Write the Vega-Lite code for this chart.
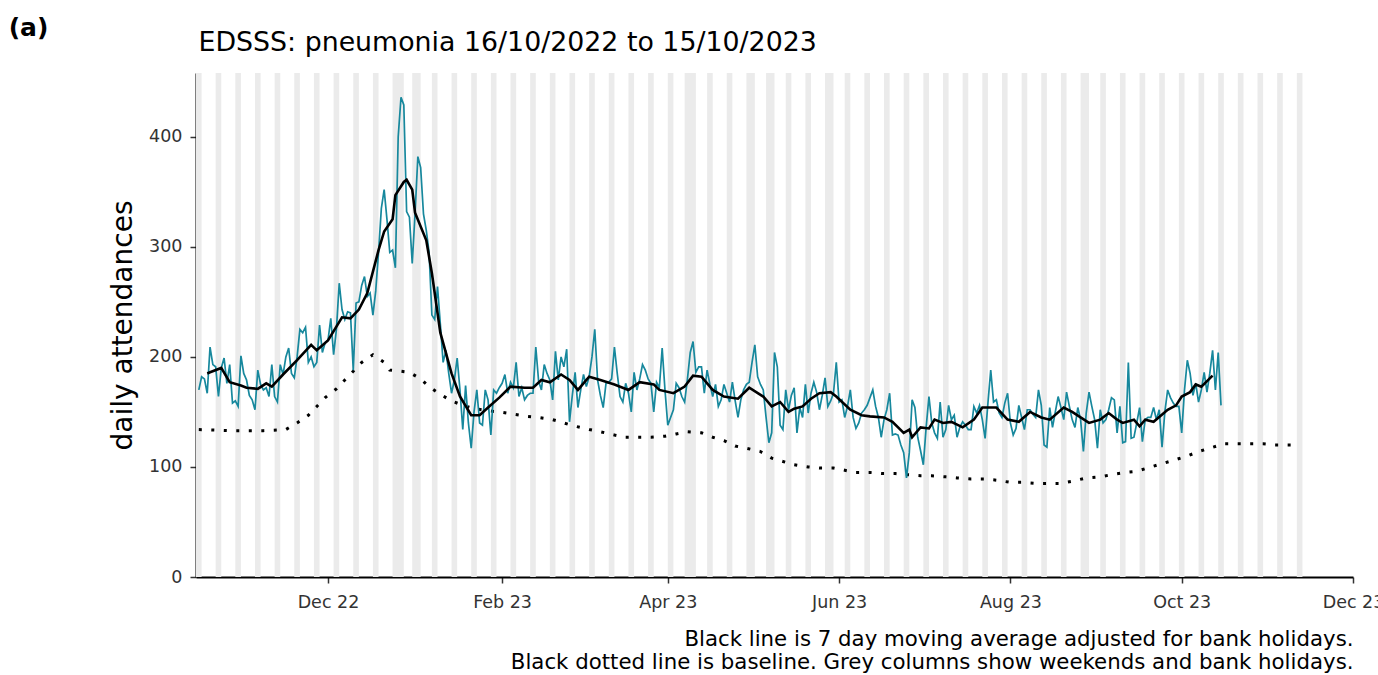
{
"$schema": "https://vega.github.io/schema/vega-lite/v6.json",
"width": 1157,
"height": 504,
"autosize": {"type": "none"},
"padding": {"left": 196, "top": 73, "right": 25, "bottom": 98},
"background": "white",
"config": {"view": {"stroke": null}, "font": "DejaVu Sans"},
"datasets": {
"grey": [
{"s":"2022-10-15","e":"2022-10-17"},{"s":"2022-10-22","e":"2022-10-24"},{"s":"2022-10-29","e":"2022-10-31"},{"s":"2022-11-05","e":"2022-11-07"},{"s":"2022-11-12","e":"2022-11-14"},{"s":"2022-11-19","e":"2022-11-21"},{"s":"2022-11-26","e":"2022-11-28"},{"s":"2022-12-03","e":"2022-12-05"},{"s":"2022-12-10","e":"2022-12-12"},{"s":"2022-12-17","e":"2022-12-19"},{"s":"2022-12-24","e":"2022-12-28"},{"s":"2022-12-31","e":"2023-01-03"},{"s":"2023-01-07","e":"2023-01-09"},{"s":"2023-01-14","e":"2023-01-16"},{"s":"2023-01-21","e":"2023-01-23"},{"s":"2023-01-28","e":"2023-01-30"},{"s":"2023-02-04","e":"2023-02-06"},{"s":"2023-02-11","e":"2023-02-13"},{"s":"2023-02-18","e":"2023-02-20"},{"s":"2023-02-25","e":"2023-02-27"},{"s":"2023-03-04","e":"2023-03-06"},{"s":"2023-03-11","e":"2023-03-13"},{"s":"2023-03-18","e":"2023-03-20"},{"s":"2023-03-25","e":"2023-03-27"},{"s":"2023-04-01","e":"2023-04-03"},{"s":"2023-04-07","e":"2023-04-11"},{"s":"2023-04-15","e":"2023-04-17"},{"s":"2023-04-22","e":"2023-04-24"},{"s":"2023-04-29","e":"2023-05-02"},{"s":"2023-05-06","e":"2023-05-09"},{"s":"2023-05-13","e":"2023-05-15"},{"s":"2023-05-20","e":"2023-05-22"},{"s":"2023-05-27","e":"2023-05-30"},{"s":"2023-06-03","e":"2023-06-05"},{"s":"2023-06-10","e":"2023-06-12"},{"s":"2023-06-17","e":"2023-06-19"},{"s":"2023-06-24","e":"2023-06-26"},{"s":"2023-07-01","e":"2023-07-03"},{"s":"2023-07-08","e":"2023-07-10"},{"s":"2023-07-15","e":"2023-07-17"},{"s":"2023-07-22","e":"2023-07-24"},{"s":"2023-07-29","e":"2023-07-31"},{"s":"2023-08-05","e":"2023-08-07"},{"s":"2023-08-12","e":"2023-08-14"},{"s":"2023-08-19","e":"2023-08-21"},{"s":"2023-08-26","e":"2023-08-29"},{"s":"2023-09-02","e":"2023-09-04"},{"s":"2023-09-09","e":"2023-09-11"},{"s":"2023-09-16","e":"2023-09-18"},{"s":"2023-09-23","e":"2023-09-25"},{"s":"2023-09-30","e":"2023-10-02"},{"s":"2023-10-07","e":"2023-10-09"},{"s":"2023-10-14","e":"2023-10-16"},{"s":"2023-10-21","e":"2023-10-23"},{"s":"2023-10-28","e":"2023-10-30"},{"s":"2023-11-04","e":"2023-11-06"},{"s":"2023-11-11","e":"2023-11-13"}
],
"daily": [
{"d":"2022-10-16","v":170},{"d":"2022-10-17","v":182},{"d":"2022-10-18","v":180},{"d":"2022-10-19","v":167},{"d":"2022-10-20","v":209},{"d":"2022-10-21","v":193},{"d":"2022-10-22","v":191},{"d":"2022-10-23","v":164},{"d":"2022-10-24","v":190},{"d":"2022-10-25","v":199},{"d":"2022-10-26","v":176},{"d":"2022-10-27","v":193},{"d":"2022-10-28","v":158},{"d":"2022-10-29","v":160},{"d":"2022-10-30","v":155},{"d":"2022-10-31","v":201},
{"d":"2022-11-01","v":185},{"d":"2022-11-02","v":179},{"d":"2022-11-03","v":165},{"d":"2022-11-04","v":161},{"d":"2022-11-05","v":152},{"d":"2022-11-06","v":188},{"d":"2022-11-07","v":175},{"d":"2022-11-08","v":170},{"d":"2022-11-09","v":172},{"d":"2022-11-10","v":164},{"d":"2022-11-11","v":193},{"d":"2022-11-12","v":164},{"d":"2022-11-13","v":159},{"d":"2022-11-14","v":193},{"d":"2022-11-15","v":184},{"d":"2022-11-16","v":200},{"d":"2022-11-17","v":208},{"d":"2022-11-18","v":185},{"d":"2022-11-19","v":181},{"d":"2022-11-20","v":200},{"d":"2022-11-21","v":225},{"d":"2022-11-22","v":222},{"d":"2022-11-23","v":227},{"d":"2022-11-24","v":195},{"d":"2022-11-25","v":200},{"d":"2022-11-26","v":191},{"d":"2022-11-27","v":195},{"d":"2022-11-28","v":229},{"d":"2022-11-29","v":204},{"d":"2022-11-30","v":213},
{"d":"2022-12-01","v":215},{"d":"2022-12-02","v":235},{"d":"2022-12-03","v":202},{"d":"2022-12-04","v":225},{"d":"2022-12-05","v":267},{"d":"2022-12-06","v":243},{"d":"2022-12-07","v":234},{"d":"2022-12-08","v":241},{"d":"2022-12-09","v":240},{"d":"2022-12-10","v":188},{"d":"2022-12-11","v":249},{"d":"2022-12-12","v":250},{"d":"2022-12-13","v":265},{"d":"2022-12-14","v":273},{"d":"2022-12-15","v":255},{"d":"2022-12-16","v":258},{"d":"2022-12-17","v":238},{"d":"2022-12-18","v":260},{"d":"2022-12-19","v":295},{"d":"2022-12-20","v":335},{"d":"2022-12-21","v":352},{"d":"2022-12-22","v":325},{"d":"2022-12-23","v":295},{"d":"2022-12-24","v":297},{"d":"2022-12-25","v":281},{"d":"2022-12-26","v":400},{"d":"2022-12-27","v":436},{"d":"2022-12-28","v":429},{"d":"2022-12-29","v":332},{"d":"2022-12-30","v":327},{"d":"2022-12-31","v":285},
{"d":"2023-01-01","v":330},{"d":"2023-01-02","v":382},{"d":"2023-01-03","v":372},{"d":"2023-01-04","v":330},{"d":"2023-01-05","v":315},{"d":"2023-01-06","v":295},{"d":"2023-01-07","v":238},{"d":"2023-01-08","v":234},{"d":"2023-01-09","v":264},{"d":"2023-01-10","v":230},{"d":"2023-01-11","v":195},{"d":"2023-01-12","v":206},{"d":"2023-01-13","v":185},{"d":"2023-01-14","v":167},{"d":"2023-01-15","v":179},{"d":"2023-01-16","v":199},{"d":"2023-01-17","v":170},{"d":"2023-01-18","v":134},{"d":"2023-01-19","v":174},{"d":"2023-01-20","v":140},{"d":"2023-01-21","v":117},{"d":"2023-01-22","v":150},{"d":"2023-01-23","v":170},{"d":"2023-01-24","v":140},{"d":"2023-01-25","v":138},{"d":"2023-01-26","v":170},{"d":"2023-01-27","v":161},{"d":"2023-01-28","v":129},{"d":"2023-01-29","v":170},{"d":"2023-01-30","v":167},{"d":"2023-01-31","v":172},
{"d":"2023-02-01","v":176},{"d":"2023-02-02","v":184},{"d":"2023-02-03","v":167},{"d":"2023-02-04","v":177},{"d":"2023-02-05","v":172},{"d":"2023-02-06","v":195},{"d":"2023-02-07","v":164},{"d":"2023-02-08","v":172},{"d":"2023-02-09","v":161},{"d":"2023-02-10","v":165},{"d":"2023-02-11","v":167},{"d":"2023-02-12","v":167},{"d":"2023-02-13","v":209},{"d":"2023-02-14","v":178},{"d":"2023-02-15","v":170},{"d":"2023-02-16","v":193},{"d":"2023-02-17","v":185},{"d":"2023-02-18","v":179},{"d":"2023-02-19","v":161},{"d":"2023-02-20","v":205},{"d":"2023-02-21","v":179},{"d":"2023-02-22","v":200},{"d":"2023-02-23","v":191},{"d":"2023-02-24","v":207},{"d":"2023-02-25","v":141},{"d":"2023-02-26","v":165},{"d":"2023-02-27","v":186},{"d":"2023-02-28","v":154},
{"d":"2023-03-01","v":170},{"d":"2023-03-02","v":184},{"d":"2023-03-03","v":173},{"d":"2023-03-04","v":182},{"d":"2023-03-05","v":200},{"d":"2023-03-06","v":225},{"d":"2023-03-07","v":179},{"d":"2023-03-08","v":165},{"d":"2023-03-09","v":154},{"d":"2023-03-10","v":176},{"d":"2023-03-11","v":177},{"d":"2023-03-12","v":180},{"d":"2023-03-13","v":209},{"d":"2023-03-14","v":185},{"d":"2023-03-15","v":164},{"d":"2023-03-16","v":159},{"d":"2023-03-17","v":176},{"d":"2023-03-18","v":167},{"d":"2023-03-19","v":150},{"d":"2023-03-20","v":186},{"d":"2023-03-21","v":170},{"d":"2023-03-22","v":180},{"d":"2023-03-23","v":193},{"d":"2023-03-24","v":188},{"d":"2023-03-25","v":180},{"d":"2023-03-26","v":176},{"d":"2023-03-27","v":150},{"d":"2023-03-28","v":177},{"d":"2023-03-29","v":172},{"d":"2023-03-30","v":208},{"d":"2023-03-31","v":170},
{"d":"2023-04-01","v":138},{"d":"2023-04-02","v":145},{"d":"2023-04-03","v":152},{"d":"2023-04-04","v":176},{"d":"2023-04-05","v":172},{"d":"2023-04-06","v":164},{"d":"2023-04-07","v":159},{"d":"2023-04-08","v":180},{"d":"2023-04-09","v":204},{"d":"2023-04-10","v":214},{"d":"2023-04-11","v":186},{"d":"2023-04-12","v":191},{"d":"2023-04-13","v":191},{"d":"2023-04-14","v":167},{"d":"2023-04-15","v":188},{"d":"2023-04-16","v":175},{"d":"2023-04-17","v":164},{"d":"2023-04-18","v":175},{"d":"2023-04-19","v":155},{"d":"2023-04-20","v":161},{"d":"2023-04-21","v":175},{"d":"2023-04-22","v":167},{"d":"2023-04-23","v":159},{"d":"2023-04-24","v":177},{"d":"2023-04-25","v":160},{"d":"2023-04-26","v":145},{"d":"2023-04-27","v":161},{"d":"2023-04-28","v":170},{"d":"2023-04-29","v":175},{"d":"2023-04-30","v":177},
{"d":"2023-05-01","v":195},{"d":"2023-05-02","v":211},{"d":"2023-05-03","v":182},{"d":"2023-05-04","v":175},{"d":"2023-05-05","v":170},{"d":"2023-05-06","v":145},{"d":"2023-05-07","v":122},{"d":"2023-05-08","v":131},{"d":"2023-05-09","v":204},{"d":"2023-05-10","v":191},{"d":"2023-05-11","v":138},{"d":"2023-05-12","v":134},{"d":"2023-05-13","v":170},{"d":"2023-05-14","v":152},{"d":"2023-05-15","v":165},{"d":"2023-05-16","v":172},{"d":"2023-05-17","v":131},{"d":"2023-05-18","v":154},{"d":"2023-05-19","v":145},{"d":"2023-05-20","v":175},{"d":"2023-05-21","v":149},{"d":"2023-05-22","v":167},{"d":"2023-05-23","v":177},{"d":"2023-05-24","v":168},{"d":"2023-05-25","v":152},{"d":"2023-05-26","v":165},{"d":"2023-05-27","v":181},{"d":"2023-05-28","v":155},{"d":"2023-05-29","v":160},{"d":"2023-05-30","v":167},{"d":"2023-05-31","v":195},
{"d":"2023-06-01","v":159},{"d":"2023-06-02","v":161},{"d":"2023-06-03","v":145},{"d":"2023-06-04","v":155},{"d":"2023-06-05","v":170},{"d":"2023-06-06","v":145},{"d":"2023-06-07","v":135},{"d":"2023-06-08","v":140},{"d":"2023-06-09","v":149},{"d":"2023-06-10","v":152},{"d":"2023-06-11","v":156},{"d":"2023-06-12","v":163},{"d":"2023-06-13","v":170},{"d":"2023-06-14","v":155},{"d":"2023-06-15","v":145},{"d":"2023-06-16","v":127},{"d":"2023-06-17","v":143},{"d":"2023-06-18","v":152},{"d":"2023-06-19","v":167},{"d":"2023-06-20","v":129},{"d":"2023-06-21","v":130},{"d":"2023-06-22","v":129},{"d":"2023-06-23","v":120},{"d":"2023-06-24","v":113},{"d":"2023-06-25","v":90},{"d":"2023-06-26","v":113},{"d":"2023-06-27","v":161},{"d":"2023-06-28","v":154},{"d":"2023-06-29","v":127},{"d":"2023-06-30","v":115},
{"d":"2023-07-01","v":102},{"d":"2023-07-02","v":136},{"d":"2023-07-03","v":164},{"d":"2023-07-04","v":140},{"d":"2023-07-05","v":131},{"d":"2023-07-06","v":126},{"d":"2023-07-07","v":159},{"d":"2023-07-08","v":127},{"d":"2023-07-09","v":134},{"d":"2023-07-10","v":156},{"d":"2023-07-11","v":143},{"d":"2023-07-12","v":147},{"d":"2023-07-13","v":127},{"d":"2023-07-14","v":136},{"d":"2023-07-15","v":141},{"d":"2023-07-16","v":138},{"d":"2023-07-17","v":134},{"d":"2023-07-18","v":134},{"d":"2023-07-19","v":155},{"d":"2023-07-20","v":149},{"d":"2023-07-21","v":156},{"d":"2023-07-22","v":143},{"d":"2023-07-23","v":126},{"d":"2023-07-24","v":158},{"d":"2023-07-25","v":188},{"d":"2023-07-26","v":159},{"d":"2023-07-27","v":161},{"d":"2023-07-28","v":149},{"d":"2023-07-29","v":145},{"d":"2023-07-30","v":158},{"d":"2023-07-31","v":167},
{"d":"2023-08-01","v":140},{"d":"2023-08-02","v":129},{"d":"2023-08-03","v":135},{"d":"2023-08-04","v":156},{"d":"2023-08-05","v":145},{"d":"2023-08-06","v":134},{"d":"2023-08-07","v":152},{"d":"2023-08-08","v":152},{"d":"2023-08-09","v":148},{"d":"2023-08-10","v":145},{"d":"2023-08-11","v":170},{"d":"2023-08-12","v":156},{"d":"2023-08-13","v":120},{"d":"2023-08-14","v":118},{"d":"2023-08-15","v":154},{"d":"2023-08-16","v":136},{"d":"2023-08-17","v":150},{"d":"2023-08-18","v":164},{"d":"2023-08-19","v":154},{"d":"2023-08-20","v":143},{"d":"2023-08-21","v":168},{"d":"2023-08-22","v":155},{"d":"2023-08-23","v":143},{"d":"2023-08-24","v":136},{"d":"2023-08-25","v":154},{"d":"2023-08-26","v":143},{"d":"2023-08-27","v":114},{"d":"2023-08-28","v":149},{"d":"2023-08-29","v":168},{"d":"2023-08-30","v":155},{"d":"2023-08-31","v":143},
{"d":"2023-09-01","v":117},{"d":"2023-09-02","v":152},{"d":"2023-09-03","v":140},{"d":"2023-09-04","v":143},{"d":"2023-09-05","v":152},{"d":"2023-09-06","v":163},{"d":"2023-09-07","v":161},{"d":"2023-09-08","v":131},{"d":"2023-09-09","v":155},{"d":"2023-09-10","v":122},{"d":"2023-09-11","v":123},{"d":"2023-09-12","v":195},{"d":"2023-09-13","v":126},{"d":"2023-09-14","v":127},{"d":"2023-09-15","v":140},{"d":"2023-09-16","v":154},{"d":"2023-09-17","v":123},{"d":"2023-09-18","v":143},{"d":"2023-09-19","v":145},{"d":"2023-09-20","v":145},{"d":"2023-09-21","v":154},{"d":"2023-09-22","v":143},{"d":"2023-09-23","v":152},{"d":"2023-09-24","v":118},{"d":"2023-09-25","v":150},{"d":"2023-09-26","v":170},{"d":"2023-09-27","v":163},{"d":"2023-09-28","v":158},{"d":"2023-09-29","v":155},{"d":"2023-09-30","v":155},
{"d":"2023-10-01","v":131},{"d":"2023-10-02","v":170},{"d":"2023-10-03","v":197},{"d":"2023-10-04","v":185},{"d":"2023-10-05","v":165},{"d":"2023-10-06","v":176},{"d":"2023-10-07","v":159},{"d":"2023-10-08","v":170},{"d":"2023-10-09","v":186},{"d":"2023-10-10","v":168},{"d":"2023-10-11","v":185},{"d":"2023-10-12","v":206},{"d":"2023-10-13","v":170},{"d":"2023-10-14","v":204},{"d":"2023-10-15","v":156}
],
"ma": [
{"d":"2022-10-19","v":185},{"d":"2022-10-20","v":186},{"d":"2022-10-24","v":190},{"d":"2022-10-27","v":177},{"d":"2022-10-31","v":174},{"d":"2022-11-02","v":172},{"d":"2022-11-06","v":171},{"d":"2022-11-09","v":176},{"d":"2022-11-11","v":173},{"d":"2022-11-15","v":184},{"d":"2022-11-20","v":197},{"d":"2022-11-25","v":211},{"d":"2022-11-27","v":206},{"d":"2022-12-01","v":215},{"d":"2022-12-06","v":236},{"d":"2022-12-09","v":235},{"d":"2022-12-12","v":243},{"d":"2022-12-15","v":258},{"d":"2022-12-19","v":297},{"d":"2022-12-21","v":314},{"d":"2022-12-24","v":325},{"d":"2022-12-25","v":347},{"d":"2022-12-28","v":359},{"d":"2022-12-29","v":361},{"d":"2022-12-31","v":352},{"d":"2023-01-01","v":331},{"d":"2023-01-05","v":306},{"d":"2023-01-07","v":276},{"d":"2023-01-10","v":222},{"d":"2023-01-14","v":185},{"d":"2023-01-17","v":164},{"d":"2023-01-21","v":147},{"d":"2023-01-24","v":147},{"d":"2023-01-27","v":154},{"d":"2023-01-31","v":163},{"d":"2023-02-04","v":173},{"d":"2023-02-09","v":172},{"d":"2023-02-12","v":172},{"d":"2023-02-15","v":179},{"d":"2023-02-18","v":177},{"d":"2023-02-22","v":184},{"d":"2023-02-25","v":179},{"d":"2023-02-28","v":170},{"d":"2023-03-04","v":182},{"d":"2023-03-08","v":179},{"d":"2023-03-13","v":175},{"d":"2023-03-18","v":170},{"d":"2023-03-22","v":177},{"d":"2023-03-27","v":175},{"d":"2023-03-29","v":170},{"d":"2023-04-03","v":167},{"d":"2023-04-07","v":173},{"d":"2023-04-10","v":183},{"d":"2023-04-13","v":182},{"d":"2023-04-17","v":170},{"d":"2023-04-21","v":164},{"d":"2023-04-26","v":162},{"d":"2023-04-30","v":172},{"d":"2023-05-05","v":164},{"d":"2023-05-08","v":155},{"d":"2023-05-11","v":159},{"d":"2023-05-14","v":150},{"d":"2023-05-16","v":153},{"d":"2023-05-19","v":155},{"d":"2023-05-22","v":162},{"d":"2023-05-25","v":167},{"d":"2023-05-29","v":168},{"d":"2023-05-31","v":164},{"d":"2023-06-05","v":152},{"d":"2023-06-09","v":147},{"d":"2023-06-12","v":146},{"d":"2023-06-17","v":145},{"d":"2023-06-20","v":141},{"d":"2023-06-24","v":131},{"d":"2023-06-26","v":134},{"d":"2023-06-27","v":127},{"d":"2023-06-30","v":136},{"d":"2023-07-03","v":135},{"d":"2023-07-05","v":143},{"d":"2023-07-08","v":140},{"d":"2023-07-11","v":141},{"d":"2023-07-15","v":136},{"d":"2023-07-19","v":143},{"d":"2023-07-22","v":154},{"d":"2023-07-27","v":154},{"d":"2023-07-31","v":143},{"d":"2023-08-04","v":141},{"d":"2023-08-08","v":150},{"d":"2023-08-12","v":145},{"d":"2023-08-15","v":143},{"d":"2023-08-20","v":154},{"d":"2023-08-23","v":150},{"d":"2023-08-26","v":145},{"d":"2023-08-29","v":140},{"d":"2023-09-02","v":143},{"d":"2023-09-05","v":149},{"d":"2023-09-08","v":143},{"d":"2023-09-10","v":140},{"d":"2023-09-14","v":143},{"d":"2023-09-16","v":137},{"d":"2023-09-18","v":143},{"d":"2023-09-21","v":141},{"d":"2023-09-26","v":152},{"d":"2023-09-29","v":156},{"d":"2023-10-01","v":164},{"d":"2023-10-04","v":168},{"d":"2023-10-06","v":175},{"d":"2023-10-08","v":173},{"d":"2023-10-12","v":183}
],
"base": [
{"d":"2022-10-16","v":134},{"d":"2022-10-27","v":133},{"d":"2022-11-08","v":133},{"d":"2022-11-16","v":134},{"d":"2022-11-20","v":140},{"d":"2022-11-24","v":147},{"d":"2022-11-27","v":155},{"d":"2022-11-30","v":163},{"d":"2022-12-04","v":171},{"d":"2022-12-07","v":179},{"d":"2022-12-10","v":187},{"d":"2022-12-13","v":195},{"d":"2022-12-17","v":202},{"d":"2022-12-21","v":195},{"d":"2022-12-23","v":188},{"d":"2022-12-27","v":187},{"d":"2022-12-30","v":186},{"d":"2023-01-03","v":180},{"d":"2023-01-06","v":173},{"d":"2023-01-10","v":166},{"d":"2023-01-14","v":160},{"d":"2023-01-18","v":156},{"d":"2023-01-22","v":153},{"d":"2023-01-27","v":151},{"d":"2023-01-31","v":150},{"d":"2023-02-05","v":148},{"d":"2023-02-10","v":146},{"d":"2023-02-14","v":145},{"d":"2023-02-19","v":143},{"d":"2023-02-23","v":140},{"d":"2023-02-27","v":137},{"d":"2023-03-04","v":134},{"d":"2023-03-08","v":132},{"d":"2023-03-13","v":129},{"d":"2023-03-17","v":127},{"d":"2023-03-22","v":127},{"d":"2023-03-26","v":127},{"d":"2023-03-31","v":128},{"d":"2023-04-04","v":130},{"d":"2023-04-08","v":132},{"d":"2023-04-13","v":131},{"d":"2023-04-17","v":127},{"d":"2023-04-21","v":124},{"d":"2023-04-25","v":119},{"d":"2023-04-29","v":117},{"d":"2023-05-04","v":114},{"d":"2023-05-08","v":108},{"d":"2023-05-12","v":105},{"d":"2023-05-16","v":102},{"d":"2023-05-21","v":100},{"d":"2023-05-25","v":99},{"d":"2023-05-30","v":99},{"d":"2023-06-03","v":97},{"d":"2023-06-07","v":95},{"d":"2023-06-12","v":95},{"d":"2023-06-16","v":94},{"d":"2023-06-21","v":94},{"d":"2023-06-25","v":93},{"d":"2023-06-30","v":92},{"d":"2023-07-04","v":92},{"d":"2023-07-09","v":91},{"d":"2023-07-13","v":90},{"d":"2023-07-18","v":89},{"d":"2023-07-23","v":89},{"d":"2023-07-27","v":88},{"d":"2023-08-01","v":86},{"d":"2023-08-05","v":86},{"d":"2023-08-10","v":85},{"d":"2023-08-15","v":85},{"d":"2023-08-19","v":85},{"d":"2023-08-23","v":87},{"d":"2023-08-28","v":90},{"d":"2023-09-02","v":91},{"d":"2023-09-06","v":93},{"d":"2023-09-11","v":95},{"d":"2023-09-15","v":96},{"d":"2023-09-20","v":100},{"d":"2023-09-24","v":103},{"d":"2023-09-28","v":106},{"d":"2023-10-03","v":110},{"d":"2023-10-07","v":114},{"d":"2023-10-11","v":117},{"d":"2023-10-16","v":121},{"d":"2023-10-21","v":121},{"d":"2023-10-25","v":121},{"d":"2023-10-30","v":121},{"d":"2023-11-03","v":120},{"d":"2023-11-09","v":120}
]
},
"layer": [
{
"data": {"name": "grey"},
"mark": {"type": "rect", "color": "#EBEBEB"},
"encoding": {
"x": {"field": "s", "type": "temporal",
"scale": {"type": "utc", "domain": [{"year": 2022, "month": 10, "date": 15, "utc": true}, {"year": 2023, "month": 12, "date": 1, "utc": true}]},
"axis": {"orient": "bottom", "values": [{"year": 2022, "month": 12, "date": 1, "utc": true}, {"year": 2023, "month": 2, "date": 1, "utc": true}, {"year": 2023, "month": 4, "date": 1, "utc": true}, {"year": 2023, "month": 6, "date": 1, "utc": true}, {"year": 2023, "month": 8, "date": 1, "utc": true}, {"year": 2023, "month": 10, "date": 1, "utc": true}, {"year": 2023, "month": 12, "date": 1, "utc": true}],
"labelExpr": "utcFormat(datum.value, '%b %y')", "labelFontSize": 17.5, "labelFont": "DejaVu Sans", "labelColor": "#333333", "labelPadding": 10, "labelFlush": false, "labelOverlap": false, "tickSize": 6, "tickColor": "#333333", "tickWidth": 1.5, "domainColor": "black", "domainWidth": 2, "grid": false,
"title": ["Black line is 7 day moving average adjusted for bank holidays.", "Black dotted line is baseline. Grey columns show weekends and bank holidays."],
"titleFont": "DejaVu Sans", "titleFontSize": 21.3, "titleFontWeight": "normal", "titleColor": "black", "titleAnchor": "end", "titleAlign": "right", "titleX": 1157, "titleY": 68, "titleBaseline": "alphabetic", "titleLineHeight": 23}},
"x2": {"field": "e"}
}
},
{
"data": {"name": "base"},
"mark": {"type": "line", "color": "black", "strokeWidth": 3, "strokeDash": [3, 9.5], "strokeCap": "butt"},
"encoding": {
"x": {"field": "d", "type": "temporal", "axis": null},
"y": {"field": "v", "type": "quantitative", "title": "daily attendances"}
}
},
{
"data": {"name": "daily"},
"mark": {"type": "line", "color": "#17889D", "strokeWidth": 1.7},
"encoding": {
"x": {"field": "d", "type": "temporal",
"axis": {"orient": "top", "title": "EDSSS: pneumonia 16/10/2022 to 15/10/2023", "labels": false, "ticks": false, "domain": false, "grid": false, "titleAnchor": "start", "titleAlign": "left", "titleX": 2, "titleY": -23, "titleBaseline": "alphabetic", "titleFont": "DejaVu Sans", "titleFontSize": 26.8, "titleFontWeight": "normal", "titleColor": "black", "titleAngle": 0}},
"y": {"field": "v", "type": "quantitative", "title": "daily attendances",
"scale": {"domain": [0, 458], "nice": false, "zero": true},
"axis": {"values": [0, 100, 200, 300, 400], "labelFont": "DejaVu Sans", "labelFontSize": 17.5, "labelColor": "#333333", "labelPadding": 8, "tickSize": 6, "tickColor": "#333333", "tickWidth": 1.5, "domainColor": "black", "domainWidth": 2, "grid": false, "titleFont": "DejaVu Sans", "titleFontSize": 28, "titleFontWeight": "normal", "titleColor": "black", "titlePadding": 11}}
}
},
{
"data": {"name": "ma"},
"mark": {"type": "line", "color": "black", "strokeWidth": 2.6},
"encoding": {
"x": {"field": "d", "type": "temporal",
"axis": {"orient": "top", "title": "(a)", "labels": false, "ticks": false, "domain": false, "grid": false, "titleX": -168, "titleY": -46, "titleAlign": "center", "titleBaseline": "middle", "titleFont": "DejaVu Sans", "titleFontSize": 25, "titleFontWeight": "bold", "titleColor": "black", "titleAngle": 0}},
"y": {"field": "v", "type": "quantitative", "title": "daily attendances"}
}
}
],
"resolve": {"axis": {"x": "independent"}}
}
